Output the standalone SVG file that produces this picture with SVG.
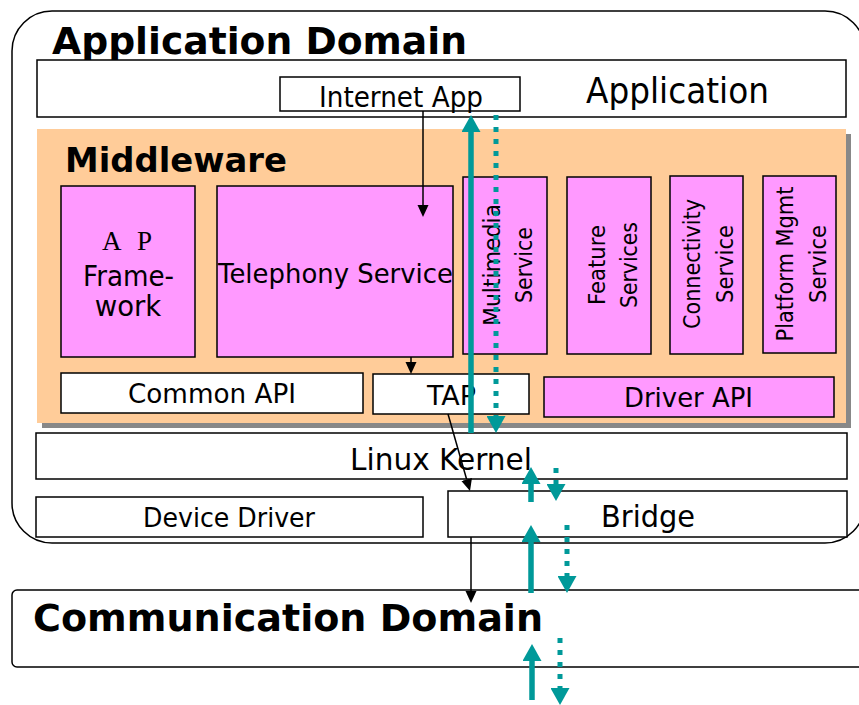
<svg xmlns="http://www.w3.org/2000/svg" width="859" height="705" viewBox="0 0 859 705">
  <style>
    .t { font-family: "DejaVu Sans", "Liberation Sans", sans-serif; fill: #000; }
    .b { font-weight: bold; }
    .serif { font-family: "Liberation Serif", "DejaVu Serif", serif; fill: #000; }
    .box { fill: #fff; stroke: #000; stroke-width: 1.5; }
    .mag { fill: #FF99FF; stroke: #000; stroke-width: 1.5; }
    .frame { fill: none; stroke: #000; stroke-width: 1.5; }
    .blk { fill: none; stroke: #000; stroke-width: 1.5; marker-end: url(#headBlack); }
    .flow { fill: none; stroke: #009999; stroke-width: 5.5; marker-end: url(#headTeal); }
    .flowDot { fill: none; stroke: #009999; stroke-width: 5; stroke-dasharray: 5 7; marker-end: url(#headTeal); }
  </style>
  <defs>
    <marker id="headBlack" markerUnits="userSpaceOnUse" viewBox="0 -6 12 12" markerWidth="12" markerHeight="12" refX="0" refY="0" orient="auto">
      <path d="M0,-5.5 L12,0 L0,5.5 z" fill="#000"/>
    </marker>
    <marker id="headTeal" markerUnits="userSpaceOnUse" viewBox="0 -9.5 17 19" markerWidth="17" markerHeight="19" refX="0" refY="0" orient="auto">
      <path d="M0,-9.5 L17,0 L0,9.5 z" fill="#009999"/>
    </marker>
  </defs>

  <rect width="859" height="705" fill="#fff"/>

  <!-- application domain frame -->
  <g id="application-domain">
    <rect class="frame" x="12" y="11" width="853" height="532" rx="40" ry="40"/>
    <text class="t b" x="52" y="54" font-size="38" textLength="415" lengthAdjust="spacingAndGlyphs">Application Domain</text>
  </g>

  <g id="application">
    <rect class="box" x="37" y="60" width="809" height="57" stroke-width="2"/>
    <text class="t" x="586" y="103" font-size="35" textLength="183" lengthAdjust="spacingAndGlyphs">Application</text>
  </g>

  <g id="internet-app">
    <rect class="box" x="280" y="77" width="240" height="34"/>
    <text class="t" x="319" y="107" font-size="27.5" textLength="164" lengthAdjust="spacingAndGlyphs">Internet App</text>
  </g>

  <!-- middleware layer -->
  <g id="middleware">
    <rect x="42" y="134" width="809" height="294" fill="#888"/>
    <rect x="37" y="129" width="809" height="294" fill="#FFCC99"/>
    <text class="t b" x="65" y="172" font-size="34.5" textLength="222" lengthAdjust="spacingAndGlyphs">Middleware</text>
  </g>

  <g id="ap-framework">
    <rect class="mag" x="61" y="186" width="134" height="171"/>
    <text class="serif" x="102" y="250" font-size="27" textLength="50">A P</text>
    <text class="t" x="83" y="286" font-size="27.5" textLength="91" lengthAdjust="spacingAndGlyphs">Frame-</text>
    <text class="t" x="128" y="316" font-size="27.5" text-anchor="middle">work</text>
  </g>

  <g id="telephony-service">
    <rect class="mag" x="217" y="186" width="236" height="171"/>
    <text class="t" x="218" y="283" font-size="27" textLength="235" lengthAdjust="spacingAndGlyphs">Telephony Service</text>
  </g>

  <g id="multimedia-service">
    <rect class="mag" x="463" y="177" width="84" height="177"/>
    <g transform="translate(505,265) rotate(-90)">
      <text class="t" x="-61" y="-5" font-size="23" textLength="122" lengthAdjust="spacingAndGlyphs">Multimedia</text>
      <text class="t" x="-38" y="27" font-size="23" textLength="76" lengthAdjust="spacingAndGlyphs">Service</text>
    </g>
  </g>

  <g id="feature-services">
    <rect class="mag" x="567" y="177" width="84" height="177"/>
    <g transform="translate(609,265) rotate(-90)">
      <text class="t" x="-40" y="-4" font-size="23" textLength="80" lengthAdjust="spacingAndGlyphs">Feature</text>
      <text class="t" x="-43" y="28" font-size="23" textLength="86" lengthAdjust="spacingAndGlyphs">Services</text>
    </g>
  </g>

  <g id="connectivity-service">
    <rect class="mag" x="670" y="176" width="73" height="178"/>
    <g transform="translate(706,264) rotate(-90)">
      <text class="t" x="-65" y="-6" font-size="23" textLength="130" lengthAdjust="spacingAndGlyphs">Connectivity</text>
      <text class="t" x="-39" y="27" font-size="23" textLength="78" lengthAdjust="spacingAndGlyphs">Service</text>
    </g>
  </g>

  <g id="platform-mgmt-service">
    <rect class="mag" x="763" y="176" width="73" height="177"/>
    <g transform="translate(799,264) rotate(-90)">
      <text class="t" x="-77.5" y="-6" font-size="23" textLength="155" lengthAdjust="spacingAndGlyphs">Platform Mgmt</text>
      <text class="t" x="-39" y="27" font-size="23" textLength="78" lengthAdjust="spacingAndGlyphs">Service</text>
    </g>
  </g>

  <g id="common-api">
    <rect class="box" x="61" y="373" width="302" height="40"/>
    <text class="t" x="128" y="403" font-size="27" textLength="168" lengthAdjust="spacingAndGlyphs">Common API</text>
  </g>

  <g id="tap">
    <rect class="box" x="373" y="374" width="156" height="40"/>
    <text class="t" x="427" y="405" font-size="27" textLength="49" lengthAdjust="spacingAndGlyphs">TAP</text>
  </g>

  <g id="driver-api">
    <rect class="mag" x="544" y="377" width="290" height="40"/>
    <text class="t" x="624" y="407" font-size="27" textLength="129" lengthAdjust="spacingAndGlyphs">Driver API</text>
  </g>

  <!-- kernel and below -->
  <g id="linux-kernel">
    <rect class="box" x="36" y="433" width="811" height="46"/>
    <text class="t" x="350" y="470" font-size="30.5" textLength="182" lengthAdjust="spacingAndGlyphs">Linux Kernel</text>
  </g>

  <g id="device-driver">
    <rect class="box" x="36" y="497" width="387" height="40"/>
    <text class="t" x="143" y="527" font-size="26" textLength="172" lengthAdjust="spacingAndGlyphs">Device Driver</text>
  </g>

  <g id="bridge">
    <rect class="box" x="448" y="491" width="399" height="46"/>
    <text class="t" x="601" y="527" font-size="31" textLength="94" lengthAdjust="spacingAndGlyphs">Bridge</text>
  </g>

  <g id="communication-domain">
    <rect class="frame" x="12" y="590" width="870" height="77" rx="5" ry="5"/>
    <text class="t b" x="33" y="631" font-size="38" textLength="510" lengthAdjust="spacingAndGlyphs">Communication Domain</text>
  </g>

  <!-- connectors -->
  <g id="connectors">
    <line class="blk" x1="423" y1="111" x2="423" y2="205"/>
    <line class="blk" x1="411" y1="357" x2="411" y2="362"/>
    <line class="blk" x1="448" y1="414" x2="466.7" y2="479.5"/>
    <line class="blk" x1="471" y1="537" x2="471" y2="591"/>

    <line class="flow" x1="471" y1="433" x2="471" y2="132"/>
    <line class="flowDot" x1="496" y1="115" x2="496" y2="416"/>

    <line class="flow" x1="531" y1="502" x2="531" y2="484"/>
    <line class="flowDot" x1="556" y1="468" x2="556" y2="484"/>

    <line class="flow" x1="531" y1="593" x2="531" y2="542"/>
    <line class="flowDot" x1="567" y1="525" x2="567" y2="576"/>

    <line class="flow" x1="532" y1="700" x2="532" y2="661"/>
    <line class="flowDot" x1="560" y1="638" x2="560" y2="688"/>
  </g>
</svg>
